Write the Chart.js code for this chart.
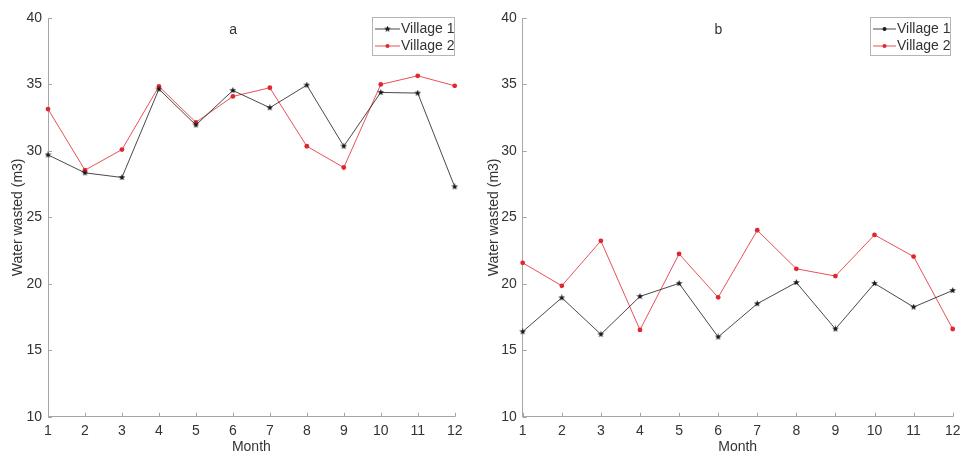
<!DOCTYPE html>
<html>
<head>
<meta charset="utf-8">
<script src="https://cdn.jsdelivr.net/npm/chart.js@4"></script>
<style>
  html, body { margin: 0; padding: 0; background: #fff; }
  body { width: 961px; height: 454px; position: relative; overflow: hidden; }
  .wrap { position: absolute; top: 0; height: 454px; }
  #wa { left: 0; width: 480px; }
  #wb { left: 480px; width: 481px; }
</style>
</head>
<body>
<div class="wrap" id="wa"><canvas id="ca"></canvas></div>
<div class="wrap" id="wb"><canvas id="cb"></canvas></div>
<script>
const months = ['1','2','3','4','5','6','7','8','9','10','11','12'];
const seriesNames = ['Village 1', 'Village 2'];
const panelTitles = ['a', 'b'];
const yTicks = [10, 15, 20, 25, 30, 35, 40];
const xTitle = 'Month';
const yTitle = 'Water wasted (m3)';

const aVillage1 = [29.7, 28.35, 28.0, 34.65, 31.95, 34.55, 33.25, 34.95, 30.35, 34.4, 34.35, 27.3];
const aVillage2 = [33.15, 28.55, 30.1, 34.85, 32.15, 34.1, 34.75, 30.35, 28.75, 35.0, 35.65, 34.9];
const bVillage1 = [16.4, 18.95, 16.2, 19.05, 20.03, 16.0, 18.5, 20.1, 16.6, 20.03, 18.25, 19.5];
const bVillage2 = [21.58, 19.85, 23.23, 16.53, 22.25, 18.98, 24.03, 21.13, 20.58, 23.68, 22.05, 16.6];

const FONT = "'Liberation Sans', Arial, Helvetica, sans-serif";
const TEXT = '#333333';
const AXIS = '#a6a6a6';
const BLACK = '#1a1a1a';
const RED = '#e0262f';

function starImage(size, color) {
  const c = document.createElement('canvas');
  c.width = size; c.height = size;
  const g = c.getContext('2d');
  const cx = size / 2, cy = size / 2, R = size / 2, r = R * 0.42;
  g.beginPath();
  for (let i = 0; i < 10; i++) {
    const rad = (i % 2 === 0) ? R : r;
    const ang = -Math.PI / 2 + i * Math.PI / 5;
    const x = cx + rad * Math.cos(ang), y = cy + rad * Math.sin(ang);
    if (i === 0) g.moveTo(x, y); else g.lineTo(x, y);
  }
  g.closePath();
  g.fillStyle = color;
  g.fill();
  return c;
}
const starImg = starImage(7, BLACK);

function panelPlugin(title, legendBox, legendDots) {
  return {
    id: 'panel_' + title,
    afterDraw(chart) {
      const ctx = chart.ctx;
      const xs = chart.scales.x, ys = chart.scales.y;
      const ca = chart.chartArea;
      ctx.save();
      // inward tick marks
      ctx.strokeStyle = AXIS;
      ctx.lineWidth = 1;
      ctx.beginPath();
      months.forEach((m, i) => {
        const px = Math.round(xs.getPixelForValue(i)) + 0.5;
        ctx.moveTo(px, ca.bottom);
        ctx.lineTo(px, ca.bottom - 4);
      });
      yTicks.forEach(v => {
        const py = Math.round(ys.getPixelForValue(v)) + 0.5;
        ctx.moveTo(ca.left, py);
        ctx.lineTo(ca.left + 4, py);
      });
      ctx.stroke();
      // panel title
      ctx.fillStyle = TEXT;
      ctx.font = '14px ' + FONT;
      ctx.textAlign = 'center';
      ctx.textBaseline = 'middle';
      ctx.fillText(title, ca.left + (ca.right - ca.left) * 0.455, 30);
      // legend
      const lb = legendBox;
      ctx.fillStyle = '#ffffff';
      ctx.fillRect(lb.x, lb.y, lb.w, lb.h);
      ctx.strokeStyle = '#b5b5b5';
      ctx.strokeRect(lb.x + 0.5, lb.y + 0.5, lb.w, lb.h);
      chart.data.datasets.forEach((ds, i) => {
        const cy = lb.y + 12 + i * 17;
        const x0 = lb.x + 3, x1 = lb.x + lb.sample;
        ctx.strokeStyle = ds.borderColor;
        ctx.lineWidth = 0.8;
        ctx.beginPath();
        ctx.moveTo(x0, cy); ctx.lineTo(x1, cy);
        ctx.stroke();
        const mx = (x0 + x1) / 2;
        if (!legendDots && ds.pointStyle !== 'circle') {
          ctx.drawImage(starImg, mx - 3.5, cy - 3.5, 7, 7);
        } else {
          ctx.fillStyle = ds.borderColor;
          ctx.beginPath();
          ctx.arc(mx, cy, 2, 0, Math.PI * 2);
          ctx.fill();
        }
        ctx.fillStyle = TEXT;
        ctx.font = '14px ' + FONT;
        ctx.textAlign = 'left';
        ctx.textBaseline = 'middle';
        ctx.fillText(ds.label, x1 + 1, cy + 0.5);
      });
      ctx.restore();
    }
  };
}

function makeChart(canvasId, v1, v2, opts) {
  return new Chart(document.getElementById(canvasId), {
    type: 'line',
    data: {
      labels: months,
      datasets: [
        {
          label: seriesNames[0], data: v1,
          borderColor: BLACK, backgroundColor: BLACK, borderWidth: 0.8,
          pointStyle: starImg, pointRadius: 4, pointHoverRadius: 4,
          tension: 0, fill: false
        },
        {
          label: seriesNames[1], data: v2,
          borderColor: RED, backgroundColor: RED, borderWidth: 0.8,
          pointStyle: 'circle', pointRadius: 2.4, pointBorderWidth: 0,
          tension: 0, fill: false
        }
      ]
    },
    options: {
      responsive: true,
      maintainAspectRatio: false,
      animation: false,
      events: [],
      layout: { padding: { top: 18, right: opts.padRight, left: 0, bottom: 0 } },
      plugins: { legend: { display: false }, title: { display: false }, tooltip: { enabled: false } },
      scales: {
        x: {
          type: 'category',
          offset: false,
          grid: { display: false, drawTicks: false },
          border: { display: true, color: AXIS, width: 1 },
          ticks: { color: TEXT, font: { family: FONT, size: 14 }, padding: 6, maxRotation: 0, autoSkip: false },
          title: { display: true, text: xTitle, color: TEXT, font: { family: FONT, size: 14, lineHeight: 1 }, padding: { top: 0, bottom: 0 } },
          afterFit(s) { s.height = 37.3; s.paddingLeft = 0; s.paddingRight = 0; }
        },
        y: {
          min: 10, max: 40,
          afterBuildTicks(s) { s.ticks = yTicks.map(v => ({ value: v })); },
          grid: { display: false, drawTicks: false },
          border: { display: true, color: AXIS, width: 1 },
          ticks: { color: TEXT, font: { family: FONT, size: 14 }, padding: 6 },
          title: { display: true, text: yTitle, color: TEXT, font: { family: FONT, size: 14, lineHeight: 1 }, padding: { top: opts.yTitlePad, bottom: 0 } },
          afterFit(s) { s.width = opts.yWidth; s.paddingTop = 0; s.paddingBottom = 0; }
        }
      }
    },
    plugins: [panelPlugin(opts.title, opts.legendBox, opts.legendDots)]
  });
}

makeChart('ca', aVillage1, aVillage2, {
  title: panelTitles[0], padRight: 25.3, yWidth: 48, yTitlePad: 11,
  legendBox: { x: 372, y: 17, w: 82, h: 38, sample: 28 }, legendDots: false
});
makeChart('cb', bVillage1, bVillage2, {
  title: panelTitles[1], padRight: 8.3, yWidth: 42.7, yTitlePad: 7,
  legendBox: { x: 390, y: 17, w: 80, h: 38, sample: 26 }, legendDots: true
});
</script>
</body>
</html>
